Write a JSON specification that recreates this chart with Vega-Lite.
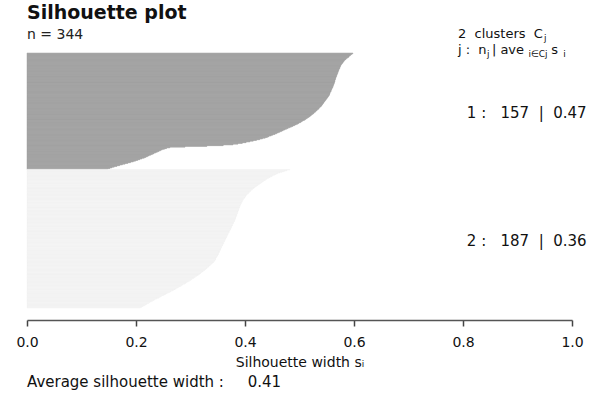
{
"$schema": "https://vega.github.io/schema/vega-lite/v6.json",
"width": 545, "height": 255,
"autosize": {"type": "none"},
"padding": {"left": 27, "top": 53, "right": 35, "bottom": 85},
"background": "white",
"config": {"view": {"stroke": null}, "font": "DejaVu Sans", "text": {"font": "DejaVu Sans"}},
"title": {"text": "Silhouette plot", "subtitle": "n = 344", "anchor": "start", "frame": "group", "font": "DejaVu Sans", "fontSize": 19, "fontWeight": "bold", "color": "#111111", "subtitleFont": "DejaVu Sans", "subtitleFontSize": 14, "subtitleColor": "#222222", "subtitlePadding": 5, "offset": -14},
"layer": [
{
"data": {"values": [
{"i":1,"c":1,"s":0.598},{"i":2,"c":1,"s":0.596},{"i":3,"c":1,"s":0.594},{"i":4,"c":1,"s":0.593},{"i":5,"c":1,"s":0.591},{"i":6,"c":1,"s":0.590},{"i":7,"c":1,"s":0.588},{"i":8,"c":1,"s":0.586},{"i":9,"c":1,"s":0.585},{"i":10,"c":1,"s":0.583},
{"i":11,"c":1,"s":0.582},{"i":12,"c":1,"s":0.581},{"i":13,"c":1,"s":0.580},{"i":14,"c":1,"s":0.579},{"i":15,"c":1,"s":0.578},{"i":16,"c":1,"s":0.577},{"i":17,"c":1,"s":0.576},{"i":18,"c":1,"s":0.575},{"i":19,"c":1,"s":0.575},{"i":20,"c":1,"s":0.574},
{"i":21,"c":1,"s":0.574},{"i":22,"c":1,"s":0.573},{"i":23,"c":1,"s":0.572},{"i":24,"c":1,"s":0.572},{"i":25,"c":1,"s":0.571},{"i":26,"c":1,"s":0.571},{"i":27,"c":1,"s":0.570},{"i":28,"c":1,"s":0.570},{"i":29,"c":1,"s":0.569},{"i":30,"c":1,"s":0.569},
{"i":31,"c":1,"s":0.568},{"i":32,"c":1,"s":0.568},{"i":33,"c":1,"s":0.567},{"i":34,"c":1,"s":0.567},{"i":35,"c":1,"s":0.566},{"i":36,"c":1,"s":0.566},{"i":37,"c":1,"s":0.565},{"i":38,"c":1,"s":0.565},{"i":39,"c":1,"s":0.565},{"i":40,"c":1,"s":0.564},
{"i":41,"c":1,"s":0.564},{"i":42,"c":1,"s":0.563},{"i":43,"c":1,"s":0.563},{"i":44,"c":1,"s":0.562},{"i":45,"c":1,"s":0.562},{"i":46,"c":1,"s":0.561},{"i":47,"c":1,"s":0.561},{"i":48,"c":1,"s":0.560},{"i":49,"c":1,"s":0.559},{"i":50,"c":1,"s":0.559},
{"i":51,"c":1,"s":0.558},{"i":52,"c":1,"s":0.558},{"i":53,"c":1,"s":0.557},{"i":54,"c":1,"s":0.556},{"i":55,"c":1,"s":0.556},{"i":56,"c":1,"s":0.555},{"i":57,"c":1,"s":0.555},{"i":58,"c":1,"s":0.554},{"i":59,"c":1,"s":0.553},{"i":60,"c":1,"s":0.552},
{"i":61,"c":1,"s":0.551},{"i":62,"c":1,"s":0.550},{"i":63,"c":1,"s":0.549},{"i":64,"c":1,"s":0.548},{"i":65,"c":1,"s":0.547},{"i":66,"c":1,"s":0.546},{"i":67,"c":1,"s":0.545},{"i":68,"c":1,"s":0.544},{"i":69,"c":1,"s":0.543},{"i":70,"c":1,"s":0.542},
{"i":71,"c":1,"s":0.541},{"i":72,"c":1,"s":0.540},{"i":73,"c":1,"s":0.539},{"i":74,"c":1,"s":0.537},{"i":75,"c":1,"s":0.536},{"i":76,"c":1,"s":0.535},{"i":77,"c":1,"s":0.533},{"i":78,"c":1,"s":0.532},{"i":79,"c":1,"s":0.530},{"i":80,"c":1,"s":0.529},
{"i":81,"c":1,"s":0.527},{"i":82,"c":1,"s":0.526},{"i":83,"c":1,"s":0.524},{"i":84,"c":1,"s":0.522},{"i":85,"c":1,"s":0.521},{"i":86,"c":1,"s":0.519},{"i":87,"c":1,"s":0.517},{"i":88,"c":1,"s":0.515},{"i":89,"c":1,"s":0.513},{"i":90,"c":1,"s":0.511},
{"i":91,"c":1,"s":0.509},{"i":92,"c":1,"s":0.506},{"i":93,"c":1,"s":0.504},{"i":94,"c":1,"s":0.502},{"i":95,"c":1,"s":0.499},{"i":96,"c":1,"s":0.497},{"i":97,"c":1,"s":0.494},{"i":98,"c":1,"s":0.491},{"i":99,"c":1,"s":0.488},{"i":100,"c":1,"s":0.485},
{"i":101,"c":1,"s":0.482},{"i":102,"c":1,"s":0.479},{"i":103,"c":1,"s":0.476},{"i":104,"c":1,"s":0.473},{"i":105,"c":1,"s":0.470},{"i":106,"c":1,"s":0.467},{"i":107,"c":1,"s":0.464},{"i":108,"c":1,"s":0.461},{"i":109,"c":1,"s":0.458},{"i":110,"c":1,"s":0.455},
{"i":111,"c":1,"s":0.451},{"i":112,"c":1,"s":0.448},{"i":113,"c":1,"s":0.444},{"i":114,"c":1,"s":0.441},{"i":115,"c":1,"s":0.437},{"i":116,"c":1,"s":0.432},{"i":117,"c":1,"s":0.427},{"i":118,"c":1,"s":0.421},{"i":119,"c":1,"s":0.415},{"i":120,"c":1,"s":0.409},
{"i":121,"c":1,"s":0.402},{"i":122,"c":1,"s":0.395},{"i":123,"c":1,"s":0.387},{"i":124,"c":1,"s":0.378},{"i":125,"c":1,"s":0.360},{"i":126,"c":1,"s":0.330},{"i":127,"c":1,"s":0.290},{"i":128,"c":1,"s":0.262},{"i":129,"c":1,"s":0.256},{"i":130,"c":1,"s":0.252},
{"i":131,"c":1,"s":0.248},{"i":132,"c":1,"s":0.245},{"i":133,"c":1,"s":0.242},{"i":134,"c":1,"s":0.239},{"i":135,"c":1,"s":0.236},{"i":136,"c":1,"s":0.233},{"i":137,"c":1,"s":0.230},{"i":138,"c":1,"s":0.227},{"i":139,"c":1,"s":0.224},{"i":140,"c":1,"s":0.221},
{"i":141,"c":1,"s":0.218},{"i":142,"c":1,"s":0.215},{"i":143,"c":1,"s":0.211},{"i":144,"c":1,"s":0.207},{"i":145,"c":1,"s":0.203},{"i":146,"c":1,"s":0.199},{"i":147,"c":1,"s":0.195},{"i":148,"c":1,"s":0.190},{"i":149,"c":1,"s":0.185},{"i":150,"c":1,"s":0.180},
{"i":151,"c":1,"s":0.175},{"i":152,"c":1,"s":0.170},{"i":153,"c":1,"s":0.165},{"i":154,"c":1,"s":0.160},{"i":155,"c":1,"s":0.156},{"i":156,"c":1,"s":0.152},{"i":157,"c":1,"s":0.148},
{"i":158,"c":2,"s":0.482},{"i":159,"c":2,"s":0.477},{"i":160,"c":2,"s":0.472},{"i":161,"c":2,"s":0.468},{"i":162,"c":2,"s":0.464},{"i":163,"c":2,"s":0.460},{"i":164,"c":2,"s":0.457},{"i":165,"c":2,"s":0.454},{"i":166,"c":2,"s":0.451},{"i":167,"c":2,"s":0.449},
{"i":168,"c":2,"s":0.446},{"i":169,"c":2,"s":0.444},{"i":170,"c":2,"s":0.441},{"i":171,"c":2,"s":0.439},{"i":172,"c":2,"s":0.437},{"i":173,"c":2,"s":0.435},{"i":174,"c":2,"s":0.433},{"i":175,"c":2,"s":0.431},{"i":176,"c":2,"s":0.429},{"i":177,"c":2,"s":0.427},
{"i":178,"c":2,"s":0.425},{"i":179,"c":2,"s":0.423},{"i":180,"c":2,"s":0.421},{"i":181,"c":2,"s":0.419},{"i":182,"c":2,"s":0.418},{"i":183,"c":2,"s":0.416},{"i":184,"c":2,"s":0.414},{"i":185,"c":2,"s":0.413},{"i":186,"c":2,"s":0.411},{"i":187,"c":2,"s":0.410},
{"i":188,"c":2,"s":0.408},{"i":189,"c":2,"s":0.407},{"i":190,"c":2,"s":0.406},{"i":191,"c":2,"s":0.404},{"i":192,"c":2,"s":0.403},{"i":193,"c":2,"s":0.402},{"i":194,"c":2,"s":0.401},{"i":195,"c":2,"s":0.400},{"i":196,"c":2,"s":0.399},{"i":197,"c":2,"s":0.398},
{"i":198,"c":2,"s":0.397},{"i":199,"c":2,"s":0.396},{"i":200,"c":2,"s":0.395},{"i":201,"c":2,"s":0.395},{"i":202,"c":2,"s":0.394},{"i":203,"c":2,"s":0.393},{"i":204,"c":2,"s":0.393},{"i":205,"c":2,"s":0.392},{"i":206,"c":2,"s":0.391},{"i":207,"c":2,"s":0.391},
{"i":208,"c":2,"s":0.390},{"i":209,"c":2,"s":0.390},{"i":210,"c":2,"s":0.389},{"i":211,"c":2,"s":0.389},{"i":212,"c":2,"s":0.388},{"i":213,"c":2,"s":0.388},{"i":214,"c":2,"s":0.387},{"i":215,"c":2,"s":0.387},{"i":216,"c":2,"s":0.386},{"i":217,"c":2,"s":0.386},
{"i":218,"c":2,"s":0.385},{"i":219,"c":2,"s":0.385},{"i":220,"c":2,"s":0.384},{"i":221,"c":2,"s":0.384},{"i":222,"c":2,"s":0.383},{"i":223,"c":2,"s":0.383},{"i":224,"c":2,"s":0.382},{"i":225,"c":2,"s":0.382},{"i":226,"c":2,"s":0.381},{"i":227,"c":2,"s":0.381},
{"i":228,"c":2,"s":0.380},{"i":229,"c":2,"s":0.379},{"i":230,"c":2,"s":0.379},{"i":231,"c":2,"s":0.378},{"i":232,"c":2,"s":0.377},{"i":233,"c":2,"s":0.377},{"i":234,"c":2,"s":0.376},{"i":235,"c":2,"s":0.375},{"i":236,"c":2,"s":0.375},{"i":237,"c":2,"s":0.374},
{"i":238,"c":2,"s":0.373},{"i":239,"c":2,"s":0.373},{"i":240,"c":2,"s":0.372},{"i":241,"c":2,"s":0.371},{"i":242,"c":2,"s":0.371},{"i":243,"c":2,"s":0.370},{"i":244,"c":2,"s":0.369},{"i":245,"c":2,"s":0.369},{"i":246,"c":2,"s":0.368},{"i":247,"c":2,"s":0.367},
{"i":248,"c":2,"s":0.367},{"i":249,"c":2,"s":0.366},{"i":250,"c":2,"s":0.365},{"i":251,"c":2,"s":0.365},{"i":252,"c":2,"s":0.364},{"i":253,"c":2,"s":0.363},{"i":254,"c":2,"s":0.363},{"i":255,"c":2,"s":0.362},{"i":256,"c":2,"s":0.361},{"i":257,"c":2,"s":0.361},
{"i":258,"c":2,"s":0.360},{"i":259,"c":2,"s":0.359},{"i":260,"c":2,"s":0.359},{"i":261,"c":2,"s":0.358},{"i":262,"c":2,"s":0.357},{"i":263,"c":2,"s":0.357},{"i":264,"c":2,"s":0.356},{"i":265,"c":2,"s":0.355},{"i":266,"c":2,"s":0.355},{"i":267,"c":2,"s":0.354},
{"i":268,"c":2,"s":0.353},{"i":269,"c":2,"s":0.353},{"i":270,"c":2,"s":0.352},{"i":271,"c":2,"s":0.351},{"i":272,"c":2,"s":0.351},{"i":273,"c":2,"s":0.350},{"i":274,"c":2,"s":0.349},{"i":275,"c":2,"s":0.349},{"i":276,"c":2,"s":0.348},{"i":277,"c":2,"s":0.347},
{"i":278,"c":2,"s":0.346},{"i":279,"c":2,"s":0.346},{"i":280,"c":2,"s":0.345},{"i":281,"c":2,"s":0.344},{"i":282,"c":2,"s":0.343},{"i":283,"c":2,"s":0.342},{"i":284,"c":2,"s":0.340},{"i":285,"c":2,"s":0.339},{"i":286,"c":2,"s":0.337},{"i":287,"c":2,"s":0.336},
{"i":288,"c":2,"s":0.334},{"i":289,"c":2,"s":0.333},{"i":290,"c":2,"s":0.331},{"i":291,"c":2,"s":0.330},{"i":292,"c":2,"s":0.328},{"i":293,"c":2,"s":0.327},{"i":294,"c":2,"s":0.325},{"i":295,"c":2,"s":0.323},{"i":296,"c":2,"s":0.321},{"i":297,"c":2,"s":0.319},
{"i":298,"c":2,"s":0.318},{"i":299,"c":2,"s":0.316},{"i":300,"c":2,"s":0.314},{"i":301,"c":2,"s":0.312},{"i":302,"c":2,"s":0.310},{"i":303,"c":2,"s":0.308},{"i":304,"c":2,"s":0.306},{"i":305,"c":2,"s":0.304},{"i":306,"c":2,"s":0.302},{"i":307,"c":2,"s":0.300},
{"i":308,"c":2,"s":0.298},{"i":309,"c":2,"s":0.296},{"i":310,"c":2,"s":0.293},{"i":311,"c":2,"s":0.291},{"i":312,"c":2,"s":0.289},{"i":313,"c":2,"s":0.286},{"i":314,"c":2,"s":0.284},{"i":315,"c":2,"s":0.282},{"i":316,"c":2,"s":0.279},{"i":317,"c":2,"s":0.277},
{"i":318,"c":2,"s":0.274},{"i":319,"c":2,"s":0.272},{"i":320,"c":2,"s":0.270},{"i":321,"c":2,"s":0.267},{"i":322,"c":2,"s":0.264},{"i":323,"c":2,"s":0.262},{"i":324,"c":2,"s":0.259},{"i":325,"c":2,"s":0.256},{"i":326,"c":2,"s":0.254},{"i":327,"c":2,"s":0.251},
{"i":328,"c":2,"s":0.248},{"i":329,"c":2,"s":0.246},{"i":330,"c":2,"s":0.243},{"i":331,"c":2,"s":0.241},{"i":332,"c":2,"s":0.238},{"i":333,"c":2,"s":0.235},{"i":334,"c":2,"s":0.233},{"i":335,"c":2,"s":0.230},{"i":336,"c":2,"s":0.228},{"i":337,"c":2,"s":0.225},
{"i":338,"c":2,"s":0.223},{"i":339,"c":2,"s":0.220},{"i":340,"c":2,"s":0.218},{"i":341,"c":2,"s":0.216},{"i":342,"c":2,"s":0.213},{"i":343,"c":2,"s":0.211},{"i":344,"c":2,"s":0.208}
]},
"mark": {"type": "bar", "strokeWidth": 0.5},
"encoding": {
"y": {"field": "i", "type": "ordinal", "axis": null, "scale": {"paddingInner": 0, "paddingOuter": 0}},
"x": {"field": "s", "type": "quantitative", "scale": {"domain": [0, 1], "nice": false, "zero": true},
"axis": {"orient": "bottom", "offset": 12, "values": [0, 0.2, 0.4, 0.6, 0.8, 1], "format": ".1f", "grid": false, "labelFont": "DejaVu Sans", "labelFontSize": 14, "labelColor": "#111111", "labelPadding": 9, "labelFlush": false, "tickColor": "#444444", "tickSize": 6, "tickWidth": 1.5, "domainColor": "#555555", "domainWidth": 1.5, "title": "Silhouette width sᵢ", "titleFont": "DejaVu Sans", "titleFontSize": 14, "titleFontWeight": "normal", "titleColor": "#111111", "titlePadding": 6}},
"color": {"field": "c", "type": "nominal", "scale": {"domain": [1, 2], "range": ["#a0a0a0", "#f2f2f2"]}, "legend": null},
"stroke": {"field": "c", "type": "nominal", "scale": {"domain": [1, 2], "range": ["#a0a0a0", "#f2f2f2"]}, "legend": null}
}
},
{"data": {"values": [{}]}, "mark": {"type": "text", "text": "2\u00a0\u00a0clusters\u00a0\u00a0C", "align": "left", "baseline": "alphabetic", "dy": -15, "fontSize": 13, "color": "#111111"},
 "encoding": {"x": {"datum": 0.7908, "type": "quantitative"}, "y": {"datum": 1, "type": "ordinal"}}},
{"data": {"values": [{}]}, "mark": {"type": "text", "text": "j", "align": "left", "baseline": "alphabetic", "dy": -12, "fontSize": 9, "color": "#111111"},
 "encoding": {"x": {"datum": 0.9485, "type": "quantitative"}, "y": {"datum": 1, "type": "ordinal"}}},
{"data": {"values": [{}]}, "mark": {"type": "text", "text": "j\u00a0:\u00a0\u00a0n", "align": "left", "baseline": "alphabetic", "dy": 1, "fontSize": 13, "color": "#111111"},
 "encoding": {"x": {"datum": 0.7908, "type": "quantitative"}, "y": {"datum": 1, "type": "ordinal"}}},
{"data": {"values": [{}]}, "mark": {"type": "text", "text": "j", "align": "left", "baseline": "alphabetic", "dy": 4, "fontSize": 9, "color": "#111111"},
 "encoding": {"x": {"datum": 0.8440, "type": "quantitative"}, "y": {"datum": 1, "type": "ordinal"}}},
{"data": {"values": [{}]}, "mark": {"type": "text", "text": "\u00a0|\u00a0ave", "align": "left", "baseline": "alphabetic", "dy": 1, "fontSize": 13, "color": "#111111"},
 "encoding": {"x": {"datum": 0.8530, "type": "quantitative"}, "y": {"datum": 1, "type": "ordinal"}}},
{"data": {"values": [{}]}, "mark": {"type": "text", "text": "i∈Cj", "align": "left", "baseline": "alphabetic", "dy": 4, "fontSize": 9, "color": "#111111"},
 "encoding": {"x": {"datum": 0.9200, "type": "quantitative"}, "y": {"datum": 1, "type": "ordinal"}}},
{"data": {"values": [{}]}, "mark": {"type": "text", "text": "\u00a0s", "align": "left", "baseline": "alphabetic", "dy": 1, "fontSize": 13, "color": "#111111"},
 "encoding": {"x": {"datum": 0.9620, "type": "quantitative"}, "y": {"datum": 1, "type": "ordinal"}}},
{"data": {"values": [{}]}, "mark": {"type": "text", "text": "i", "align": "left", "baseline": "alphabetic", "dy": 4, "fontSize": 9, "color": "#111111"},
 "encoding": {"x": {"datum": 0.9840, "type": "quantitative"}, "y": {"datum": 1, "type": "ordinal"}}},
{"data": {"values": [{}]}, "mark": {"type": "text", "text": "1\u00a0:\u00a0\u00a0\u00a0157\u00a0\u00a0|\u00a0\u00a00.47", "align": "left", "baseline": "middle", "fontSize": 15, "color": "#111111"},
 "encoding": {"x": {"datum": 0.807, "type": "quantitative"}, "y": {"datum": 81, "type": "ordinal"}}},
{"data": {"values": [{}]}, "mark": {"type": "text", "text": "2\u00a0:\u00a0\u00a0\u00a0187\u00a0\u00a0|\u00a0\u00a00.36", "align": "left", "baseline": "middle", "fontSize": 15, "color": "#111111"},
 "encoding": {"x": {"datum": 0.807, "type": "quantitative"}, "y": {"datum": 254, "type": "ordinal"}}},
{"data": {"values": [{}]}, "mark": {"type": "text", "text": "Average silhouette width\u00a0:\u00a0\u00a0\u00a0\u00a0\u00a00.41", "align": "left", "baseline": "middle", "dy": 74, "fontSize": 15, "color": "#111111"},
 "encoding": {"x": {"datum": 0, "type": "quantitative"}, "y": {"datum": 344, "type": "ordinal"}}}
]
}
